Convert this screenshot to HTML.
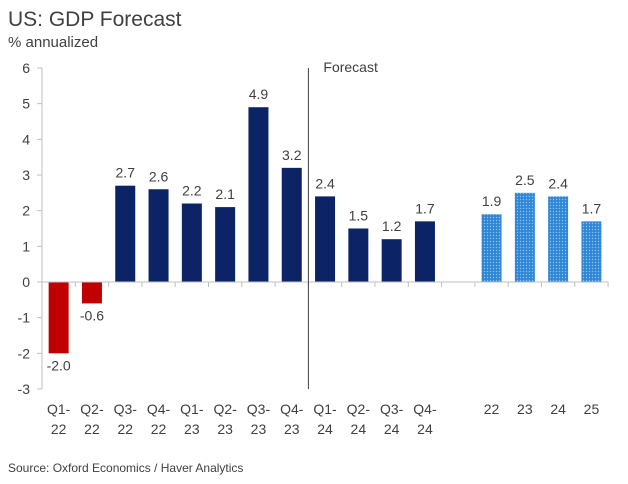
<!DOCTYPE html>
<html><head><meta charset="utf-8"><style>
body{margin:0;background:#fff;width:628px;height:479px;overflow:hidden;font-family:"Liberation Sans",sans-serif}
</style></head><body>
<svg width="628" height="479" xmlns="http://www.w3.org/2000/svg">
<defs>
<pattern id="dots" width="3" height="3" patternUnits="userSpaceOnUse">
<rect width="3" height="3" fill="#2f86d6"/><circle cx="1.5" cy="1.5" r="0.7" fill="#8cc3f0"/>
</pattern>
</defs>
<text x="8" y="26" font-size="21" fill="#404040">US: GDP Forecast</text>
<text x="8" y="47" font-size="15" fill="#404040">% annualized</text>
<text x="8" y="472" font-size="12" fill="#404040">Source: Oxford Economics / Haver Analytics</text>
<g id="g"></g>
</svg>
<script>
const categories=["Q1-22","Q2-22","Q3-22","Q4-22","Q1-23","Q2-23","Q3-23","Q4-23","Q1-24","Q2-24","Q3-24","Q4-24","","22","23","24","25"];
const values=[-2.0,-0.6,2.7,2.6,2.2,2.1,4.9,3.2,2.4,1.5,1.2,1.7,null,1.9,2.5,2.4,1.7];
const barKinds=["neg","neg","q","q","q","q","q","q","q","q","q","q","","yr","yr","yr","yr"];
const yTicks=[6,5,4,3,2,1,0,-1,-2,-3];
const NS="http://www.w3.org/2000/svg",g=document.getElementById('g');
const x0=42,slot=33.3,bw=20;
const y=v=>282-v*35.67;
const xc=i=>x0+slot*(i+0.5);
function mk(t,a){const e=document.createElementNS(NS,t);for(const k in a)e.setAttribute(k,a[k]);g.appendChild(e);return e;}
let ax=mk('line',{x1:x0,x2:x0,y1:y(6),y2:y(-3),stroke:'#bfbfbf'});


yTicks.forEach(t=>{
 const l=mk('line',{x1:x0-5,x2:x0,y1:y(t),y2:y(t),stroke:'#bfbfbf'});
 
 
 const tx=mk('text',{x:30,y:y(t)+5,'font-size':14,fill:'#404040','text-anchor':'end'});
 tx.textContent=t;
 
 
});
values.forEach((v,i)=>{
 if(v===null)return;
 const k=barKinds[i];
 const fill=k==='neg'?'#c00000':k==='yr'?'url(#dots)':'#0c2466';
 const r=mk('rect',{x:xc(i)-bw/2,y:Math.min(y(v),y(0)),width:bw,height:Math.abs(y(v)-y(0)),fill:fill});
 
 
 const t=mk('text',{x:xc(i),y:v>=0?y(v)-8:y(v)+17,'font-size':14,fill:'#404040','text-anchor':'middle'});
 t.textContent=v.toFixed(1);
 
 
});
const xa=mk('line',{x1:x0,x2:x0+slot*17,y1:y(0),y2:y(0),stroke:'#bfbfbf'});


for(let i=0;i<=17;i++){
 const l=mk('line',{x1:x0+slot*i,x2:x0+slot*i,y1:y(0),y2:y(0)+5,stroke:'#bfbfbf'});
 
 
}
categories.forEach((c,i)=>{
 if(!c)return;
 const p=c.split('-');
 const t=mk('text',{x:xc(i),y:414,'font-size':14,fill:'#404040','text-anchor':'middle'});
 t.textContent=p.length>1?p[0]+'-':p[0];
 
 
 if(p.length>1){const t2=mk('text',{x:xc(i),y:434,'font-size':14,fill:'#404040','text-anchor':'middle'});t2.textContent=p[1];
 
 }
});
const fl=mk('line',{x1:x0+slot*8,x2:x0+slot*8,y1:y(6),y2:y(-3),stroke:'#404040'});


const ft=mk('text',{x:x0+slot*8+15,y:72,'font-size':14,fill:'#404040'});
ft.textContent='Forecast';


</script>
</body></html>
